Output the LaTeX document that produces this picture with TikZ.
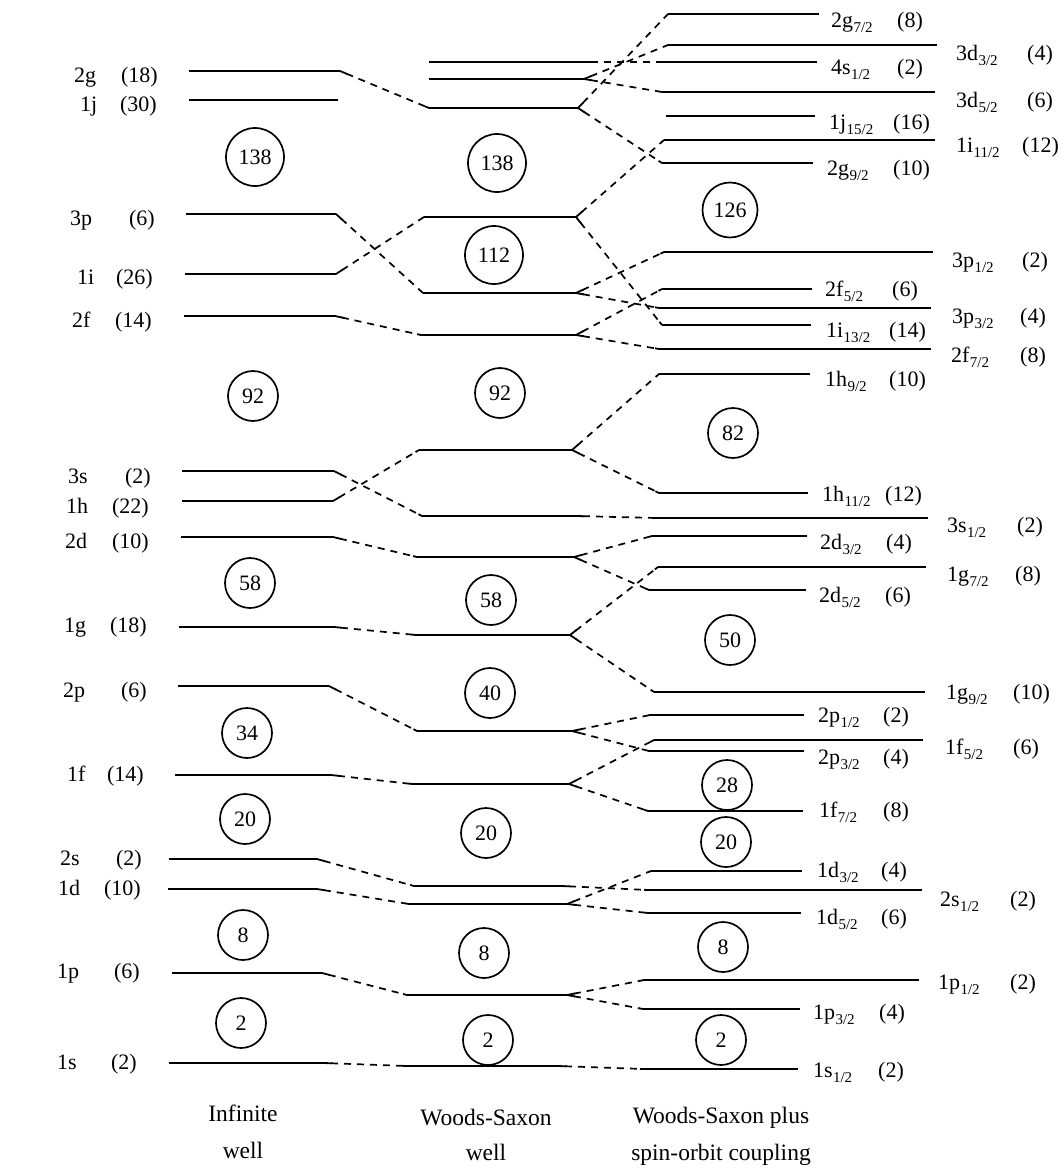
\documentclass[tikz,border=0pt]{standalone}
\usepackage{fontspec}
\setmainfont{Liberation Serif}
\usetikzlibrary{calc}
\newcommand{\sbs}[1]{\kern0.3pt\raisebox{-5pt}{\fontsize{15}{15}\selectfont #1}}
\newcommand{\mklev}[4]{\coordinate (#1L) at (#2,#4); \coordinate (#1R) at (#3,#4); \draw[lvl] (#1L) -- (#1R);}
\newcommand{\mkcon}[2]{%
  \draw[conn] ($(#1R)!7pt!(#2L)$) -- ($(#2L)!4pt!(#1R)$);
  \draw[stub] (#1R) -- ($(#1R)!8pt!(#2L)$);
  \draw[stub] (#2L) -- ($(#2L)!4pt!(#1R)$);}
% col1 label: id, name-left x, number-right x, centre y, name, number
\newcommand{\mkinf}[6]{%
  \node[lab,anchor=base west] (#1a) at (#2,#4+5.5) {#5};
  \node[lab,anchor=base east] (#1b) at (#3,#4+5.5) {#6};}
% col3 label: id, name-left x, number-left x, centre y, name, number
\newcommand{\mklab}[6]{%
  \node[lab,anchor=base west] (#1a) at (#2,#4+5.5) {#5};
  \node[lab,anchor=base west] (#1b) at (#3,#4+5.5) {#6};}
\begin{document}
\begin{tikzpicture}[x=1pt,y=-1pt,
  lvl/.style={line width=2.6pt},
  conn/.style={line width=1.7pt, dash pattern=on 7pt off 6pt},
  stub/.style={line width=1.8pt},
  magic/.style={circle, draw, line width=1.7pt, minimum size=50pt, inner sep=0pt, font=\fontsize{22}{22}\selectfont},
  bigmagic/.style={magic, minimum size=58pt},
  lab/.style={inner sep=0pt, font=\fontsize{22}{24}\selectfont},
  ttl/.style={inner sep=0pt, font=\fontsize{23.5}{26}\selectfont}]
\fill[white] (0,0) rectangle (1064,1172);
\useasboundingbox (0,0) rectangle (1064,1172);

% ---------- Infinite well ----------
\mklev{I2g}{189}{340}{71}
\mklev{I1j}{189}{338}{100}
\mklev{I3p}{186}{336}{214}
\mklev{I1i}{185}{336}{274}
\mklev{I2f}{184}{335}{316}
\mklev{I3s}{182}{334}{471}
\mklev{I1h}{182}{333}{501}
\mklev{I2d}{181}{333}{537}
\mklev{I1g}{179}{334}{627}
\mklev{I2p}{178}{329}{686}
\mklev{I1f}{175}{331}{775}
\mklev{I2s}{169}{317}{859}
\mklev{I1d}{168}{317}{889}
\mklev{I1p}{172}{322}{973}
\mklev{I1s}{169}{324}{1063}

\mkinf{l2g}{74}{158}{77}{2g}{(18)}
\mkinf{l1j}{80}{157}{106}{1j}{(30)}
\mkinf{l3p}{70}{155}{220}{3p}{(6)}
\mkinf{l1i}{77}{153}{279}{1i}{(26)}
\mkinf{l2f}{72}{152}{322}{2f}{(14)}
\mkinf{l3s}{68}{151}{478}{3s}{(2)}
\mkinf{l1h}{66}{149}{508}{1h}{(22)}
\mkinf{l2d}{65}{149}{543}{2d}{(10)}
\mkinf{l1g}{64}{147}{627}{1g}{(18)}
\mkinf{l2p}{63}{147}{692}{2p}{(6)}
\mkinf{l1f}{67}{144}{776}{1f}{(14)}
\mkinf{l2s}{60}{142}{860}{2s}{(2)}
\mkinf{l1d}{58}{141}{890}{1d}{(10)}
\mkinf{l1p}{57}{140}{973}{1p}{(6)}
\mkinf{l1s}{57}{137}{1064}{1s}{(2)}

\node[bigmagic] (a138) at (255,157) {138};
\node[magic] (a92) at (253,396) {92};
\node[magic] (a58) at (250,583) {58};
\node[magic] (a34) at (247,733) {34};
\node[magic] (a20) at (245,819) {20};
\node[magic] (a8) at (243,935) {8};
\node[magic] (a2) at (241,1023) {2};

\node[ttl] (t1a) at (243,1113) {Infinite};
\node[ttl] (t1b) at (243,1150) {well};

% ---------- Woods-Saxon ----------
\mklev{W4s}{429}{584}{62}
\mklev{W3d}{429}{584}{79}
\mklev{W2g}{429}{578}{108}
\mklev{W1i}{424}{576}{217}
\mklev{W3p}{423}{576}{293}
\mklev{W2f}{421}{576}{335}
\mklev{W1h}{419}{572}{450}
\mklev{W3s}{422}{576}{516}
\mklev{W2d}{417}{574}{557}
\mklev{W1g}{416}{570}{635}
\mklev{W2p}{417}{572}{731}
\mklev{W1f}{412}{569}{784}
\mklev{W2s}{414}{562}{886}
\mklev{W1d}{409}{567}{904}
\mklev{W1p}{407}{567}{995}
\mklev{W1s}{407}{558}{1066}

\node[bigmagic] (b138) at (497,163) {138};
\node[bigmagic] (b112) at (494,255) {112};
\node[magic] (b92) at (500,393) {92};
\node[magic] (b58) at (491,600) {58};
\node[magic] (b40) at (490,693) {40};
\node[magic] (b20) at (486,833) {20};
\node[magic] (b8) at (484,953) {8};
\node[magic] (b2) at (488,1040) {2};

\node[ttl] (t2a) at (486,1118) {Woods-Saxon};
\node[ttl] (t2b) at (486,1152) {well};

% ---------- Woods-Saxon + spin-orbit ----------
\mklev{S2g7}{668}{819}{14}
\mklev{S3d3}{668}{937}{45}
\mklev{S4s1}{662}{817}{62}
\mklev{S3d5}{662}{935}{92}
\mklev{S1j15}{666}{815}{116}
\mklev{S1i11}{664}{935}{140}
\mklev{S2g9}{662}{813}{163}
\mklev{S3p1}{664}{933}{252}
\mklev{S2f5}{662}{812}{289}
\mklev{S3p3}{659}{931}{308}
\mklev{S1i13}{662}{811}{325}
\mklev{S2f7}{659}{931}{349}
\mklev{S1h9}{659}{810}{374}
\mklev{S1h11}{659}{808}{493}
\mklev{S3s1}{656}{928}{518}
\mklev{S2d3}{652}{807}{536}
\mklev{S1g7}{658}{926}{567}
\mklev{S2d5}{649}{806}{590}
\mklev{S1g9}{654}{925}{692}
\mklev{S2p1}{650}{804}{715}
\mklev{S1f5}{654}{923}{740}
\mklev{S2p3}{649}{804}{751}
\mklev{S1f7}{648}{803}{811}
\mklev{S1d3}{651}{802}{871}
\mklev{S2s1}{648}{922}{890}
\mklev{S1d5}{648}{801}{913}
\mklev{S1p1}{644}{919}{980}
\mklev{S1p3}{643}{800}{1009}
\mklev{S1s1}{644}{798}{1069}

% short-line labels
\mklab{m2g7}{831}{897}{22}{2g\sbs{7/2}}{(8)}
\mklab{m4s1}{831}{897}{69}{4s\sbs{1/2}}{(2)}
\mklab{m1j15}{829}{893}{124}{1j\sbs{15/2}}{(16)}
\mklab{m2g9}{827}{893}{170}{2g\sbs{9/2}}{(10)}
\mklab{m2f5}{825}{892}{291}{2f\sbs{5/2}}{(6)}
\mklab{m1i13}{826}{889}{332}{1i\sbs{13/2}}{(14)}
\mklab{m1h9}{825}{889}{381}{1h\sbs{9/2}}{(10)}
\mklab{m1h11}{822}{885}{496}{1h\sbs{11/2}}{(12)}
\mklab{m2d3}{820}{886}{544}{2d\sbs{3/2}}{(4)}
\mklab{m2d5}{819}{885}{597}{2d\sbs{5/2}}{(6)}
\mklab{m2p1}{818}{883}{717}{2p\sbs{1/2}}{(2)}
\mklab{m2p3}{818}{883}{759}{2p\sbs{3/2}}{(4)}
\mklab{m1f7}{819}{883}{812}{1f\sbs{7/2}}{(8)}
\mklab{m1d3}{817}{881}{872}{1d\sbs{3/2}}{(4)}
\mklab{m1d5}{816}{881}{919}{1d\sbs{5/2}}{(6)}
\mklab{m1p3}{813}{879}{1014}{1p\sbs{3/2}}{(4)}
\mklab{m1s1}{813}{878}{1072}{1s\sbs{1/2}}{(2)}
% long-line labels
\mklab{r3d3}{956}{1027}{55}{3d\sbs{3/2}}{(4)}
\mklab{r3d5}{956}{1027}{102}{3d\sbs{5/2}}{(6)}
\mklab{r1i11}{956}{1022}{147}{1i\sbs{11/2}}{(12)}
\mklab{r3p1}{952}{1022}{262}{3p\sbs{1/2}}{(2)}
\mklab{r3p3}{952}{1020}{318}{3p\sbs{3/2}}{(4)}
\mklab{r2f7}{951}{1020}{357}{2f\sbs{7/2}}{(8)}
\mklab{r3s1}{947}{1017}{527}{3s\sbs{1/2}}{(2)}
\mklab{r1g7}{947}{1015}{576}{1g\sbs{7/2}}{(8)}
\mklab{r1g9}{946}{1013}{694}{1g\sbs{9/2}}{(10)}
\mklab{r1f5}{945}{1013}{749}{1f\sbs{5/2}}{(6)}
\mklab{r2s1}{940}{1010}{901}{2s\sbs{1/2}}{(2)}
\mklab{r1p1}{938}{1010}{984}{1p\sbs{1/2}}{(2)}

\node[magic, minimum size=55pt] (c126) at (730,210) {126};
\node[magic] (c82) at (733,433) {82};
\node[magic] (c50) at (730,640) {50};
\node[magic] (c28) at (727,785) {28};
\node[magic] (c20) at (726,842) {20};
\node[magic] (c8) at (723,947) {8};
\node[magic] (c2) at (721,1040) {2};

\node[ttl] (t3a) at (721,1118) {Woods-Saxon plus};
\node[ttl] (t3b) at (721,1155) {spin-orbit coupling};

% ---------- connectors: infinite -> WS ----------
\mkcon{I2g}{W2g}
\mkcon{I3p}{W3p}
\mkcon{I1i}{W1i}
\mkcon{I2f}{W2f}
\mkcon{I3s}{W3s}
\mkcon{I1h}{W1h}
\mkcon{I2d}{W2d}
\mkcon{I1g}{W1g}
\mkcon{I2p}{W2p}
\mkcon{I1f}{W1f}
\mkcon{I2s}{W2s}
\mkcon{I1d}{W1d}
\mkcon{I1p}{W1p}
\mkcon{I1s}{W1s}

% ---------- connectors: WS -> spin-orbit ----------
\mkcon{W4s}{S4s1}
\mkcon{W3d}{S3d3}
\mkcon{W3d}{S3d5}
\mkcon{W2g}{S2g7}
\mkcon{W2g}{S2g9}
\mkcon{W1i}{S1i11}
\mkcon{W1i}{S1i13}
\mkcon{W3p}{S3p1}
\mkcon{W3p}{S3p3}
\mkcon{W2f}{S2f5}
\mkcon{W2f}{S2f7}
\mkcon{W1h}{S1h9}
\mkcon{W1h}{S1h11}
\mkcon{W3s}{S3s1}
\mkcon{W2d}{S2d3}
\mkcon{W2d}{S2d5}
\mkcon{W1g}{S1g7}
\mkcon{W1g}{S1g9}
\mkcon{W2p}{S2p1}
\mkcon{W2p}{S2p3}
\mkcon{W1f}{S1f5}
\mkcon{W1f}{S1f7}
\mkcon{W2s}{S2s1}
\mkcon{W1d}{S1d3}
\mkcon{W1d}{S1d5}
\mkcon{W1p}{S1p1}
\mkcon{W1p}{S1p3}
\mkcon{W1s}{S1s1}
\end{tikzpicture}
\end{document}
